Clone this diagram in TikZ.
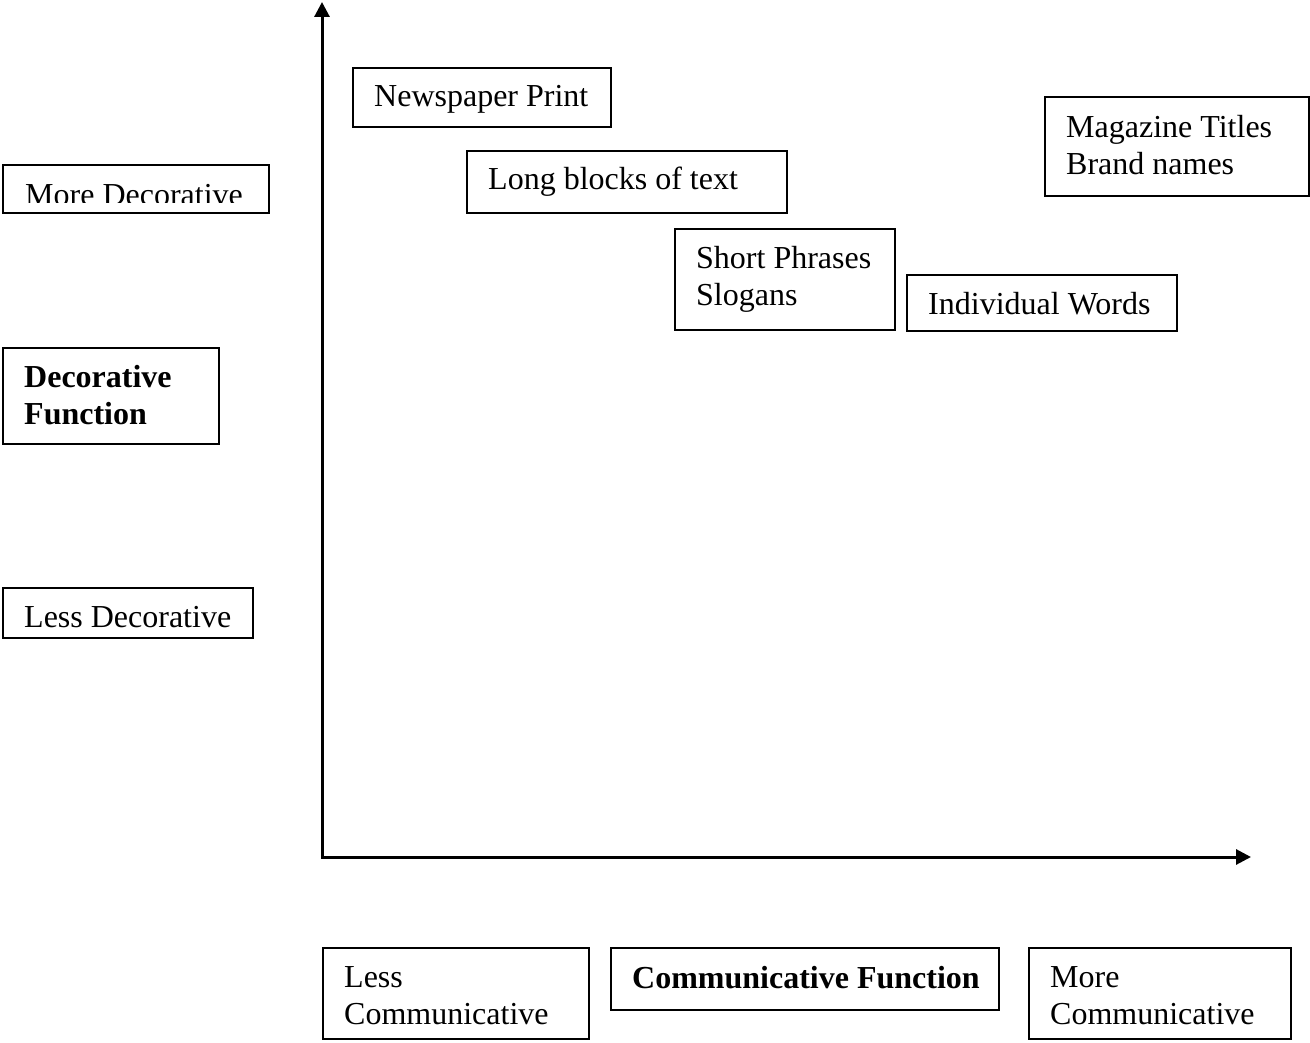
\documentclass[tikz,border=0pt]{standalone}
\usepackage{fontspec}
\setmainfont{Liberation Serif}
\usetikzlibrary{arrows.meta}
\begin{document}
\begin{tikzpicture}[x=1pt,y=-1pt,
  box/.style={draw=black, line width=2.5pt, rectangle, inner sep=0pt, outer sep=0pt, anchor=north west},
  txt/.style={font=\fontsize{32}{37}\selectfont, align=left, inner sep=0pt, anchor=west},
  btxt/.style={txt, font=\fontsize{32}{37}\selectfont\bfseries},
  axis/.style={line width=3pt, line join=miter, {Triangle[length=15pt,width=15pt]}-{Triangle[length=15pt,width=15pt]}}]
\useasboundingbox[fill=white] (0,0) rectangle (1310,1043);
% boxes
\node[box, minimum width=258, minimum height=59] (b1) at (353,68) {};
\node[box, minimum width=320, minimum height=62] (b2) at (467,151) {};
\node[box, minimum width=220, minimum height=101] (b3) at (675,229) {};
\node[box, minimum width=270, minimum height=56] (b4) at (907,275) {};
\node[box, minimum width=264, minimum height=99] (b5) at (1045,97) {};
\node[box, minimum width=266, minimum height=48] (b6) at (3,165) {};
\node[box, minimum width=216, minimum height=96] (b7) at (3,348) {};
\node[box, minimum width=250, minimum height=50] (b8) at (3,588) {};
\node[box, minimum width=266, minimum height=91] (b9) at (323,948) {};
\node[box, minimum width=388, minimum height=62] (b10) at (611,948) {};
\node[box, minimum width=262, minimum height=91] (b11) at (1029,948) {};
% texts
\node[txt] (t1) at ([xshift=21pt,yshift=-2pt]b1.west) {Newspaper Print};
\node[txt] (t2) at ([xshift=21pt,yshift=0pt]b2.west) {Long blocks of text};
\node[txt] (t3) at ([xshift=21pt,yshift=0pt]b3.west) {Short Phrases\\Slogans};
\node[txt] (t4) at ([xshift=21pt,yshift=-1pt]b4.west) {Individual Words};
\node[txt] (t5) at ([xshift=21pt,yshift=1pt]b5.west) {Magazine Titles\\Brand names};
\begin{scope}
  \clip (3,165) rectangle (269,203);
  \node[txt, anchor=base west] (t6) at (25,206) {More Decorative};
\end{scope}
\node[btxt] (t7) at ([xshift=21pt,yshift=1pt]b7.west) {Decorative\\Function};
\node[txt] (t8) at ([xshift=21pt,yshift=-4pt]b8.west) {Less Decorative};
\node[txt] (t9) at ([xshift=21pt,yshift=-2pt]b9.west) {Less\\Communicative};
\node[btxt] (t10) at ([xshift=21pt,yshift=1pt]b10.west) {Communicative Function};
\node[txt] (t11) at ([xshift=21pt,yshift=-2pt]b11.west) {More\\Communicative};
% axes
\coordinate (ytop) at (322,2);
\coordinate (o) at (322,857);
\coordinate (xend) at (1251,857);
\draw[axis] (ytop) -- (o) -- (xend);
\end{tikzpicture}
\end{document}
